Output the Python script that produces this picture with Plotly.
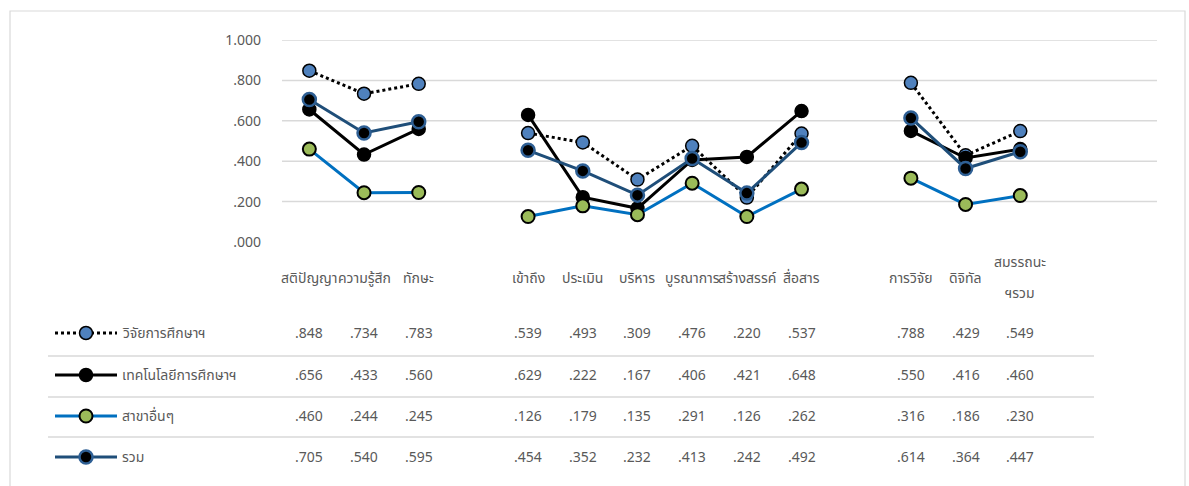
import plotly.graph_objects as go

# Category slots along the x axis; blank slots separate the three groups
categories = ["สติปัญญา", "ความรู้สึก", "ทักษะ", " ",
              "เข้าถึง", "ประเมิน", "บริหาร", "บูรณาการ", "สร้างสรรค์", "สื่อสาร", "  ",
              "การวิจัย", "ดิจิทัล", "สมรรถนะฯรวม", "   ", "    "]
# axis labels per slot; a label may wrap onto two lines
category_labels = [["สติปัญญา"], ["ความรู้สึก"], ["ทักษะ"], [],
                   ["เข้าถึง"], ["ประเมิน"], ["บริหาร"], ["บูรณาการ"], ["สร้างสรรค์"], ["สื่อสาร"], [],
                   ["การวิจัย"], ["ดิจิทัล"], ["สมรรถนะ", "ฯรวม"], [], []]

series_names = ["วิจัยการศึกษาฯ", "เทคโนโลยีการศึกษาฯ", "สาขาอื่นๆ", "รวม"]

research = [.848, .734, .783, None, .539, .493, .309, .476, .220, .537, None, .788, .429, .549, None, None]
edtech = [.656, .433, .560, None, .629, .222, .167, .406, .421, .648, None, .550, .416, .460, None, None]
other_fields = [.460, .244, .245, None, .126, .179, .135, .291, .126, .262, None, .316, .186, .230, None, None]
overall = [.705, .540, .595, None, .454, .352, .232, .413, .242, .492, None, .614, .364, .447, None, None]

y_ticks = [0.0, 0.2, 0.4, 0.6, 0.8, 1.0]

W, H = 1189, 486
L, R, T, B = 282, 32, 40, 244
PW, PH = W - L - R, H - T - B


def fx(px):
    return (px - L) / PW


def fy(py):
    return (H - B - py) / PH


def fmt(v):
    return f"{v:.3f}".lstrip("0")


styles = [
    dict(line=dict(color="black", width=3, dash="dot"),
         marker=dict(color="#4F81BD", size=13, line=dict(color="black", width=1.5))),
    dict(line=dict(color="black", width=3),
         marker=dict(color="black", size=13, line=dict(color="black", width=1.5))),
    dict(line=dict(color="#0070C0", width=3),
         marker=dict(color="#9BBB59", size=13, line=dict(color="black", width=2))),
    dict(line=dict(color="#1F4E79", width=3),
         marker=dict(color="black", size=13, line=dict(color="#2E5F94", width=2.5))),
]
all_series = [research, edtech, other_fields, overall]

fig = go.Figure()
for name, vals, st in zip(series_names, all_series, styles):
    fig.add_trace(go.Scatter(
        x=categories, y=vals, name=name, mode="lines+markers",
        line=st["line"], marker=st["marker"], connectgaps=False,
        cliponaxis=False, showlegend=False))

font_family = "Noto Sans Thai, Noto Sans, DejaVu Sans, sans-serif"
gray = "#595959"
grid = "#D9D9D9"

shapes = []
# outer chart border
shapes.append(dict(type="rect", xref="paper", yref="paper",
                   x0=fx(10), x1=fx(1185), y0=fy(492), y1=fy(11),
                   line=dict(color=grid, width=1.2), fillcolor="rgba(0,0,0,0)", layer="below"))
# horizontal gridlines (none at zero)
for v in y_ticks[1:]:
    shapes.append(dict(type="line", xref="paper", yref="y", x0=0, x1=1, y0=v, y1=v,
                       line=dict(color=grid, width=1.5), layer="below"))

annotations = []
# category labels: one line centred at 278, two lines at 262 / 293
for cat, lines in zip(categories, category_labels):
    ys = [278] if len(lines) == 1 else [262, 293]
    for text, py in zip(lines, ys):
        annotations.append(dict(x=cat, xref="x", y=fy(py), yref="paper", text=text,
                                showarrow=False, xanchor="center", yanchor="middle",
                                font=dict(family=font_family, size=14, color=gray)))

# data table rows
row_y = [333, 375, 416, 457]
sep_y = [356, 397, 437]
for py in sep_y:
    shapes.append(dict(type="line", xref="paper", yref="paper", x0=fx(48), x1=fx(1094),
                       y0=fy(py), y1=fy(py), line=dict(color=grid, width=1.5)))

for name, vals, st, py in zip(series_names, all_series, styles, row_y):
    # legend key: line segment plus marker
    shapes.append(dict(type="line", xref="paper", yref="paper", x0=fx(55), x1=fx(117),
                       y0=fy(py), y1=fy(py),
                       line=dict(color=st["line"]["color"], width=3,
                                 dash=st["line"].get("dash", "solid"))))
    r = 6.5
    shapes.append(dict(type="circle", xref="paper", yref="paper",
                       x0=fx(86 - r), x1=fx(86 + r), y0=fy(py + r), y1=fy(py - r),
                       fillcolor=st["marker"]["color"],
                       line=dict(color=st["marker"]["line"]["color"],
                                 width=st["marker"]["line"]["width"])))
    annotations.append(dict(x=fx(120), xref="paper", y=fy(py), yref="paper", text=name,
                            showarrow=False, xanchor="left", yanchor="middle",
                            font=dict(family=font_family, size=14, color=gray)))
    for cat, v in zip(categories, vals):
        if v is not None:
            annotations.append(dict(x=cat, xref="x", y=fy(py), yref="paper", text=fmt(v),
                                    showarrow=False, xanchor="center", yanchor="middle",
                                    font=dict(family=font_family, size=14, color=gray)))

fig.update_layout(
    width=W, height=H,
    margin=dict(l=L, r=R, t=T, b=B, pad=0),
    paper_bgcolor="white", plot_bgcolor="white",
    font=dict(family=font_family, size=14, color=gray),
    xaxis=dict(type="category", categoryorder="array", categoryarray=categories,
               range=[-0.5, len(categories) - 0.5], showgrid=False, zeroline=False,
               showline=False, showticklabels=False, ticks=""),
    yaxis=dict(range=[0, 1], tickvals=y_ticks, ticktext=[fmt(v) for v in y_ticks],
               showgrid=False, zeroline=False, showline=False, ticks="",
               ticklabelstandoff=20,
               tickfont=dict(family=font_family, size=14, color=gray)),
    shapes=shapes, annotations=annotations,
)

fig.write_html("out.html")
